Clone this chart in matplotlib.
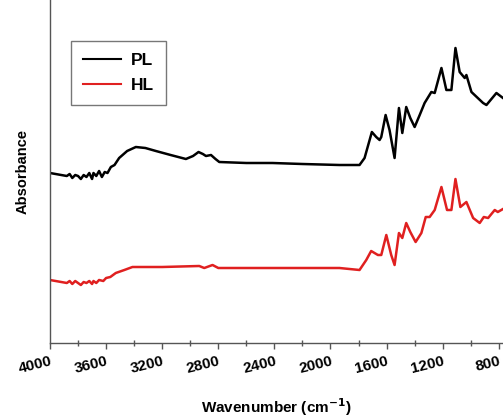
import numpy as np
import matplotlib
matplotlib.use("Agg")
import matplotlib.pyplot as plt
from matplotlib.ticker import MultipleLocator

plt.rcParams['font.family'] = ['Liberation Sans', 'DejaVu Sans']

# espectros FTIR (absorbancia en unidades arbitrarias)
wn_pl = [4000, 3960, 3920, 3880, 3860, 3841, 3820, 3800, 3780, 3760, 3740, 3720,
         3700, 3690, 3670, 3650, 3630, 3610, 3590, 3566, 3540,
         3507, 3450, 3388, 3320, 3245, 3140, 3031, 2980, 2941, 2910, 2888, 2852,
         2820, 2793, 2600, 2414, 2200, 1936, 1793, 1757, 1721, 1705, 1674, 1650,
         1638, 1607, 1579, 1543, 1512, 1488, 1460, 1431, 1400, 1364, 1329, 1281,
         1257, 1209, 1174, 1138, 1109, 1079, 1043, 1031, 995, 912, 888, 817, 770]
abs_pl = [1.70, 1.69, 1.68, 1.67, 1.69, 1.65, 1.68, 1.67, 1.64, 1.68, 1.66, 1.70,
          1.64, 1.70, 1.67, 1.72, 1.66, 1.71, 1.70, 1.76, 1.78,
          1.85, 1.92, 1.96, 1.95, 1.92, 1.88, 1.84, 1.87, 1.91, 1.89, 1.87, 1.88,
          1.84, 1.81, 1.80, 1.80, 1.79, 1.78, 1.78, 1.85, 2.03, 2.11, 2.06, 2.03,
          2.06, 2.28, 2.13, 1.85, 2.35, 2.10, 2.36, 2.25, 2.16, 2.28, 2.40, 2.51,
          2.50, 2.75, 2.53, 2.53, 2.95, 2.71, 2.65, 2.68, 2.51, 2.40, 2.38, 2.50, 2.45]

wn_hl = [4000, 3960, 3920, 3880, 3860, 3841, 3820, 3800, 3780, 3760, 3740, 3720,
         3700, 3690, 3670, 3650, 3620, 3600, 3570, 3531,
         3470, 3412, 3200, 2936, 2900, 2841, 2800, 2650, 2300, 1936, 1793, 1745,
         1710, 1662, 1638, 1602, 1567, 1543, 1512, 1488, 1460, 1431, 1393, 1352,
         1321, 1293, 1257, 1209, 1169, 1138, 1109, 1074, 1031, 983, 936, 907, 876,
         829, 807, 770]
abs_hl = [0.63, 0.62, 0.61, 0.60, 0.62, 0.59, 0.62, 0.60, 0.58, 0.61, 0.60, 0.62,
          0.59, 0.62, 0.60, 0.63, 0.62, 0.65, 0.66, 0.70,
          0.73, 0.76, 0.76, 0.77, 0.75, 0.78, 0.75, 0.75, 0.75, 0.75, 0.73, 0.83,
          0.92, 0.88, 0.88, 1.08, 0.88, 0.78, 1.10, 1.05, 1.20, 1.11, 1.01, 1.10,
          1.26, 1.26, 1.33, 1.56, 1.33, 1.33, 1.64, 1.36, 1.41, 1.25, 1.20, 1.26,
          1.25, 1.33, 1.31, 1.34]

W, H = 503, 418
fig = plt.figure(figsize=(W / 100, H / 100), dpi=100)
ax = fig.add_axes([50 / W, 75 / H, 1 - 50 / W, 1 - 75 / H])

ax.plot(wn_pl, abs_pl, color='black', lw=1.8, label='PL')
ax.plot(wn_hl, abs_hl, color='#e02020', lw=1.8, label='HL')

ax.set_xlim(4000, 770)
ax.set_ylim(0, 3.43)
ax.xaxis.set_major_locator(MultipleLocator(400))
ax.xaxis.set_minor_locator(MultipleLocator(200))
ax.set_yticks([])
for s in ['top', 'right']:
    ax.spines[s].set_visible(False)
for s in ['left', 'bottom']:
    ax.spines[s].set_color('#555555')
    ax.spines[s].set_linewidth(1)

ax.tick_params(axis='x', which='major', direction='out', length=4, width=1,
               color='#555555', labelsize=11, pad=4)
ax.tick_params(axis='x', which='minor', direction='inout', length=4, width=1,
               color='#555555')
for lab in ax.get_xticklabels():
    lab.set_rotation(14)
    lab.set_rotation_mode('anchor')
    lab.set_fontweight('bold')
    lab.set_ha('right')
    lab.set_va('top')

ax.set_xlabel('Wavenumber (cm$^{\\mathbf{-1}}$)', fontsize=11, fontweight='bold',
              labelpad=15)
ax.set_ylabel('Absorbance', fontsize=10.5, fontweight='bold', labelpad=15)

leg = ax.legend(loc='upper left', bbox_to_anchor=(0.0455, 0.88),
                prop={'weight': 'bold', 'size': 12.5}, frameon=True, fancybox=False,
                edgecolor='#555555', handlelength=2.2, handletextpad=0.55,
                borderpad=0.7, labelspacing=0.55, borderaxespad=0)
leg.get_frame().set_linewidth(1)
for line in leg.get_lines():
    line.set_linewidth(1.5)

fig.savefig('out.png', dpi=100)
